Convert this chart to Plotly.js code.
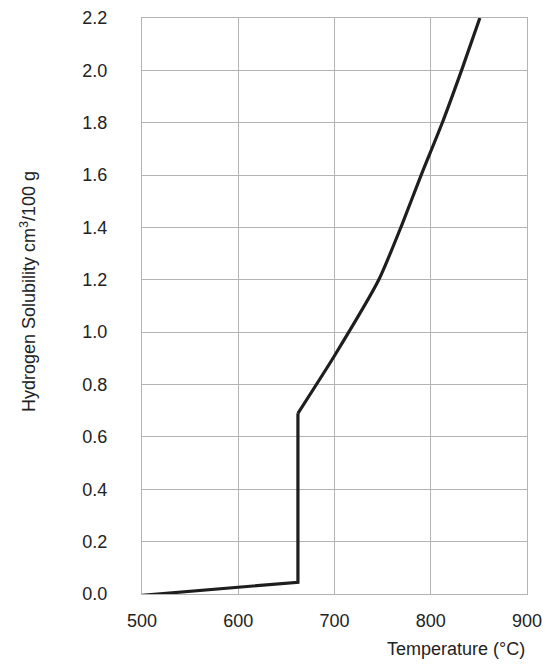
<!DOCTYPE html>
<html>
<head>
<meta charset="utf-8">
<script src="https://cdn.plot.ly/plotly-3.0.1.min.js"></script>
<style>
  html, body { margin: 0; padding: 0; background: #fff; }
  #chart { width: 550px; height: 666px; }
</style>
</head>
<body>
<div id="chart"></div>
<script>
// hydrogen solubility vs temperature
// solid part up to the melting jump, then the liquid curve
const solidTemp = [500, 662, 662];
const solidSol = [-0.005, 0.045, 0.69];
const liquidTemp = [662, 700, 746, 770, 790, 812, 832, 851];
const liquidSol = [0.69, 0.91, 1.2, 1.41, 1.6, 1.8, 2.0, 2.2];

const xTicks = [500, 600, 700, 800, 900];
const yTicks = [0, 0.2, 0.4, 0.6, 0.8, 1.0, 1.2, 1.4, 1.6, 1.8, 2.0, 2.2];

const gridColor = "#b3b3b3";
const lineColor = "#1e1e1e";
const textFont = { family: "Liberation Sans, Arial, sans-serif", size: 18, color: "#222" };

Plotly.newPlot(
  "chart",
  [
    {
      x: solidTemp,
      y: solidSol,
      mode: "lines",
      line: { color: lineColor, width: 3.2 },
      hoverinfo: "skip",
    },
    {
      x: liquidTemp,
      y: liquidSol,
      mode: "lines",
      line: { color: lineColor, width: 3.2, shape: "spline", smoothing: 0.6 },
      hoverinfo: "skip",
    },
  ],
  {
    width: 550,
    height: 666,
    margin: { l: 142, r: 23, t: 18, b: 72 },
    paper_bgcolor: "#fff",
    plot_bgcolor: "#fff",
    showlegend: false,
    font: textFont,
    xaxis: {
      range: [500, 900],
      tickvals: xTicks,
      ticktext: xTicks.map(String),
      showgrid: true,
      gridcolor: gridColor,
      gridwidth: 1,
      showline: true,
      linecolor: gridColor,
      linewidth: 1,
      mirror: true,
      zeroline: false,
      ticks: "",
      ticklabelstandoff: 10,
      tickfont: textFont,
    },
    yaxis: {
      range: [0, 2.2],
      tickvals: yTicks,
      ticktext: yTicks.map((v) => v.toFixed(1)),
      showgrid: true,
      gridcolor: gridColor,
      gridwidth: 1,
      showline: true,
      linecolor: gridColor,
      linewidth: 1,
      mirror: true,
      zeroline: false,
      ticks: "",
      ticklabelstandoff: 30,
      tickfont: textFont,
    },
    annotations: [
      {
        text: "Temperature (°C)",
        xref: "paper",
        yref: "paper",
        x: 1.0,
        y: -0.095,
        xanchor: "right",
        yanchor: "middle",
        showarrow: false,
        font: textFont,
      },
      {
        text: "Hydrogen Solubility cm<sup>3</sup>/100 g",
        xref: "paper",
        yref: "paper",
        x: -0.295,
        y: 0.525,
        xanchor: "center",
        yanchor: "middle",
        textangle: -90,
        showarrow: false,
        font: textFont,
      },
    ],
  },
  { staticPlot: true }
);
</script>
</body>
</html>
